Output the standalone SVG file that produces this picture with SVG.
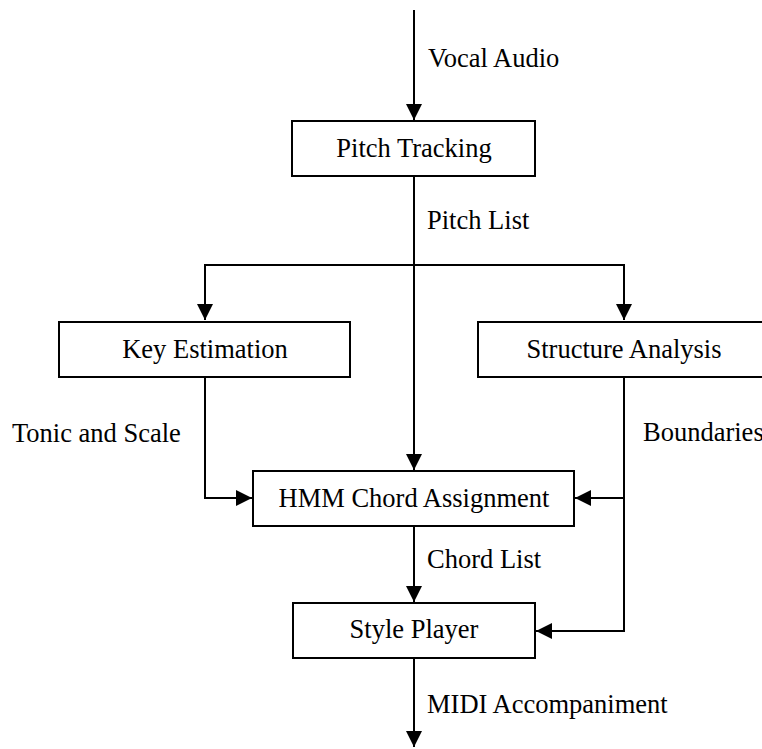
<svg xmlns="http://www.w3.org/2000/svg" width="762" height="749" viewBox="0 0 762 749">
  <style>
    .box { fill: #ffffff; stroke: #000000; stroke-width: 2; }
    .lbl { font-family: "Liberation Serif", "Times New Roman", serif; font-size: 26.5px; fill: #000000; }
    .mid { text-anchor: middle; }
    .wire { fill: none; stroke: #000000; stroke-width: 2; }
  </style>
  <defs>
    <marker id="arrow" viewBox="0 0 16 16" refX="16" refY="8" markerWidth="16" markerHeight="16" markerUnits="userSpaceOnUse" orient="auto">
      <path d="M0,0 L16,8 L0,16 Z" fill="#000000"/>
    </marker>
  </defs>

  <rect width="762" height="749" fill="#ffffff"/>

  <!-- connectors -->
  <g id="connectors">
    <line class="wire" x1="414" y1="10" x2="414" y2="120" marker-end="url(#arrow)"/>
    <line class="wire" x1="414" y1="176" x2="414" y2="470" marker-end="url(#arrow)"/>
    <polyline class="wire" points="414,265 205,265 205,320" marker-end="url(#arrow)"/>
    <polyline class="wire" points="414,265 624,265 624,320" marker-end="url(#arrow)"/>
    <polyline class="wire" points="205,377 205,498 252,498" marker-end="url(#arrow)"/>
    <polyline class="wire" points="624,377 624,631 536,631" marker-end="url(#arrow)"/>
    <line class="wire" x1="624" y1="498" x2="575" y2="498" marker-end="url(#arrow)"/>
    <line class="wire" x1="414" y1="526" x2="414" y2="602" marker-end="url(#arrow)"/>
    <line class="wire" x1="414" y1="658" x2="414" y2="747" marker-end="url(#arrow)"/>

    <text class="lbl" x="428" y="67">Vocal Audio</text>
    <text class="lbl" x="427" y="229">Pitch List</text>
    <text class="lbl" x="12" y="442">Tonic and Scale</text>
    <text class="lbl" x="643" y="441">Boundaries</text>
    <text class="lbl" x="427" y="568">Chord List</text>
    <text class="lbl" x="427" y="713">MIDI Accompaniment</text>
  </g>

  <g id="pitch-tracking">
    <rect class="box" x="292" y="121" width="243" height="55"/>
    <text class="lbl mid" x="414" y="157">Pitch Tracking</text>
  </g>

  <g id="key-estimation">
    <rect class="box" x="59" y="322" width="291" height="55"/>
    <text class="lbl mid" x="205" y="358">Key Estimation</text>
  </g>

  <g id="structure-analysis">
    <rect class="box" x="478" y="322" width="292" height="55"/>
    <text class="lbl mid" x="624" y="358">Structure Analysis</text>
  </g>

  <g id="hmm-chord-assignment">
    <rect class="box" x="253" y="471" width="321" height="55"/>
    <text class="lbl mid" x="414" y="507">HMM Chord Assignment</text>
  </g>

  <g id="style-player">
    <rect class="box" x="293" y="603" width="242" height="55"/>
    <text class="lbl mid" x="414" y="638">Style Player</text>
  </g>
</svg>
